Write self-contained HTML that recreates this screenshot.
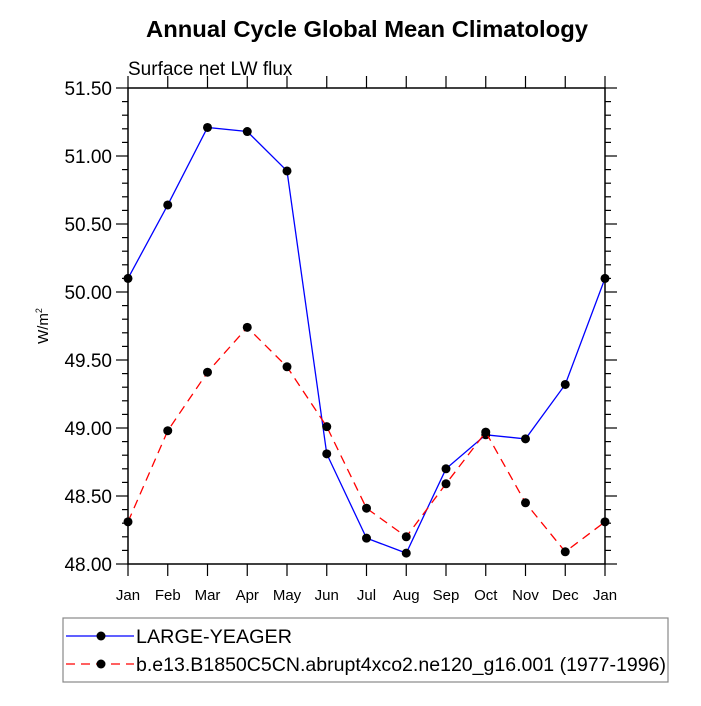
<!DOCTYPE html>
<html><head><meta charset="utf-8"><style>
html,body{margin:0;padding:0;background:#fff;}
svg text{font-family:"Liberation Sans",sans-serif;}
</style></head><body>
<svg id="chart" width="701" height="701" viewBox="0 0 701 701">
<text x="367" y="37" text-anchor="middle" font-size="23" font-weight="bold" textLength="442" lengthAdjust="spacingAndGlyphs">Annual Cycle Global Mean Climatology</text>
<text x="128" y="75" font-size="19">Surface net LW flux</text>
<text transform="translate(48,326) rotate(-90)" text-anchor="middle" font-size="15">W/m<tspan dy="-6" font-size="9">2</tspan></text>
<g id="axes"></g>
<g id="series"></g>
<g>
<rect x="63" y="618" width="605" height="64" fill="#fff" stroke="#888" stroke-width="1.2"/>
<g>
<line x1="66" y1="636" x2="134" y2="636" stroke="#0000ff" stroke-width="1.3"/>
<circle cx="101" cy="636" r="4.5" fill="#000"/>
<text x="136" y="643" font-size="19.5" textLength="156" lengthAdjust="spacingAndGlyphs">LARGE-YEAGER</text>
</g>
<g>
<line x1="66" y1="664" x2="134" y2="664" stroke="#ff0000" stroke-width="1.3" stroke-dasharray="9,6"/>
<circle cx="101" cy="664" r="4.5" fill="#000"/>
<text x="136" y="671" font-size="19.5" textLength="530" lengthAdjust="spacingAndGlyphs">b.e13.B1850C5CN.abrupt4xco2.ne120_g16.001 (1977-1996)</text>
</g>
</g>
</svg>
<script>
const months = ["Jan","Feb","Mar","Apr","May","Jun","Jul","Aug","Sep","Oct","Nov","Dec","Jan"];
const largeYeager = [50.10,50.64,51.21,51.18,50.89,48.81,48.19,48.08,48.70,48.95,48.92,49.32,50.10];
const b13 = [48.31,48.98,49.41,49.74,49.45,49.01,48.41,48.20,48.59,48.97,48.45,48.09,48.31];
const yTicks = [48.00,48.50,49.00,49.50,50.00,50.50,51.00,51.50];
const yMin = 48.0, yMax = 51.5;
const L=128,R=605,T=88,B=564;
const NS="http://www.w3.org/2000/svg";
function xs(i){return L+(R-L)*i/(months.length-1);}
function ys(v){return B-(v-yMin)/(yMax-yMin)*(B-T);}
function mk(tag,attrs,parent){const e=document.createElementNS(NS,tag);for(const k in attrs)e.setAttribute(k,attrs[k]);parent.appendChild(e);return e;}
const ax=document.getElementById('axes');
const frame=mk('rect',{x:L,y:T,width:R-L,height:B-T,fill:'none',stroke:'#000','stroke-width':1.5},ax);


for(let v=yMin;v<=yMax+1e-6;v+=0.1){
  const y=ys(v);const major=Math.abs(v*2-Math.round(v*2))<1e-6;const len=major?12:6;
  const t1=mk('line',{x1:L-len,y1:y,x2:L,y2:y,stroke:'#000','stroke-width':1.2},ax);
  
  
  const t2=mk('line',{x1:R,y1:y,x2:R+len,y2:y,stroke:'#000','stroke-width':1.2},ax);
  
  
}
yTicks.forEach(v=>{
  const t=mk('text',{x:L-16,y:ys(v)+7,'text-anchor':'end','font-size':19},ax);t.textContent=v.toFixed(2);
  
  
});
months.forEach((m,i)=>{
  const x=xs(i);
  const a=mk('line',{x1:x,y1:B,x2:x,y2:B+12,stroke:'#000','stroke-width':1.2},ax);
  
  
  const b=mk('line',{x1:x,y1:T-12,x2:x,y2:T,stroke:'#000','stroke-width':1.2},ax);
  
  
  const t=mk('text',{x:x,y:B+36,'text-anchor':'middle','font-size':15},ax);t.textContent=m;
  
  
});
const sg=document.getElementById('series');
function drawSeries(vals,color,dash,name){
  const g=mk('g',{},sg);
  
  
  const pts=vals.map((v,i)=>xs(i)+','+ys(v)).join(' ');
  const pl=mk('polyline',{points:pts,fill:'none',stroke:color,'stroke-width':1.3,'stroke-dasharray':dash},g);
  
  
  vals.forEach((v,i)=>{
    const c=mk('circle',{cx:xs(i),cy:ys(v),r:4.5,fill:'#000'},g);
    
    
  });
}
drawSeries(largeYeager,'#0000ff','none','large-yeager-series');
drawSeries(b13,'#ff0000','9,6','b-e13-series');
</script>
</body></html>
